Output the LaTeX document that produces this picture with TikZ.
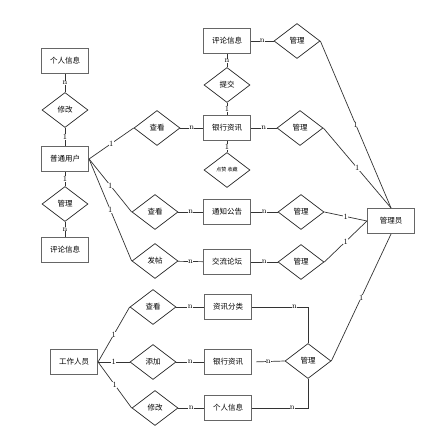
\documentclass[tikz,border=0pt]{standalone}
\usepackage{fontspec}
\usepackage{tikz}
\usetikzlibrary{shapes.geometric}
\newfontfamily\cjk{Noto Sans CJK SC}

\begin{document}
\begin{tikzpicture}[x=1pt, y=-1pt,
    ent/.style={rectangle, draw=black!60, line width=1.1pt, minimum width=47pt, minimum height=25pt, inner sep=0pt, font=\cjk\fontsize{7.5}{9}\selectfont},
    rel/.style={diamond, draw=black!85, line width=0.7pt, minimum width=46pt, minimum height=35pt, inner sep=0pt, font=\cjk\fontsize{7.5}{9}\selectfont},
    card/.style={midway, fill=white, inner sep=0.3pt, font=\fontsize{8}{8}\selectfont},
    link/.style={draw=black!80, line width=0.7pt}]
                \useasboundingbox (0,0) rectangle (427,439);

                % ordinary user
                \node[ent] (pinfo) at (65, 61) {个人信息};
                \node[rel] (umodify) at (65, 110) {修改};
                \node[ent] (user) at (65, 159) {普通用户};
                \node[rel] (umanage) at (65, 204) {管理};
                \node[ent] (ucomment) at (65, 250) {评论信息};

                % news and forum
                \node[ent] (comment) at (227, 41) {评论信息};
                \node[rel] (cmanage) at (297, 41) {管理};
                \node[rel] (submit) at (227, 85) {提交};
                \node[rel] (nview) at (157, 128) {查看};
                \node[ent] (news) at (227, 128) {银行资讯};
                \node[rel] (nmanage) at (300, 128) {管理};
                \node[rel, font=\cjk\fontsize{5}{6}\selectfont] (like) at (227, 170) {点赞 收藏};
                \node[rel] (tview) at (155, 212) {查看};
                \node[ent] (notice) at (227, 212) {通知公告};
                \node[rel] (tmanage) at (301, 212) {管理};
                \node[rel] (post) at (155, 261) {发帖};
                \node[ent] (forum) at (227, 262) {交流论坛};
                \node[rel] (fmanage) at (301, 262) {管理};
                \node[ent] (admin) at (391, 221) {管理员};

                % staff
                \node[ent] (staff) at (74, 362) {工作人员};
                \node[rel] (sview) at (153, 307) {查看};
                \node[rel] (sadd) at (153, 362) {添加};
                \node[rel] (smodify) at (155, 408) {修改};
                \node[ent] (sort) at (228, 307) {资讯分类};
                \node[ent] (snews) at (228, 362) {银行资讯};
                \node[ent] (sinfo) at (228, 408) {个人信息};
                \node[rel] (smanage) at (308, 361) {管理};

                \draw[link] (pinfo) -- node[card] {n} (umodify);
                \draw[link] (umodify) -- node[card] {1} (user);
                \draw[link] (user) -- node[card] {1} (umanage);
                \draw[link] (umanage) -- node[card] {n} (ucomment);
                \draw[link] (user.east) -- node[card] {1} (nview.west);
                \draw[link] (user.east) -- node[card] {1} (tview.west);
                \draw[link] (user.east) -- node[card] {1} (post.west);

                \draw[link] (nview) -- node[card] {n} (news);
                \draw[link] (news) -- node[card] {1} (submit);
                \draw[link] (submit) -- node[card] {n} (comment);
                \draw[link] (news) -- node[card] {1} (like);
                \draw[link] (comment) -- node[card] {n} (cmanage);
                \draw[link] (news) -- node[card] {n} (nmanage);
                \draw[link] (tview) -- node[card] {n} (notice);
                \draw[link] (notice) -- node[card] {n} (tmanage);
                \draw[link] (post) -- node[card] {n} (forum);
                \draw[link] (forum) -- node[card] {n} (fmanage);

                \draw[link] (cmanage.east) -- node[card] {1} (admin.north);
                \draw[link] (nmanage.east) -- node[card] {1} (admin.north);
                \draw[link] (tmanage.east) -- node[card] {1} (admin.west);
                \draw[link] (fmanage.east) -- node[card] {1} (admin.west);
                \draw[link] (admin.south) -- node[card] {1} (smanage.east);

                \draw[link] (staff.east) -- node[card] {1} (sview.west);
                \draw[link] (staff.east) -- node[card] {1} (sadd.west);
                \draw[link] (staff.east) -- node[card] {1} (smodify.west);
                \draw[link] (sview) -- node[card] {n} (sort);
                \draw[link] (sadd) -- node[card] {n} (snews);
                \draw[link] (smodify) -- node[card] {n} (sinfo);
                \draw[link] (sort.east) -| node[card, pos=.38] {n} (smanage.north);
                \draw[link, shorten <=4pt] (snews.east) -- node[card] {n} (smanage.west);
                \draw[link] (sinfo.east) -| node[card, pos=.36] {n} (smanage.south);
            \end{tikzpicture}
\end{document}
